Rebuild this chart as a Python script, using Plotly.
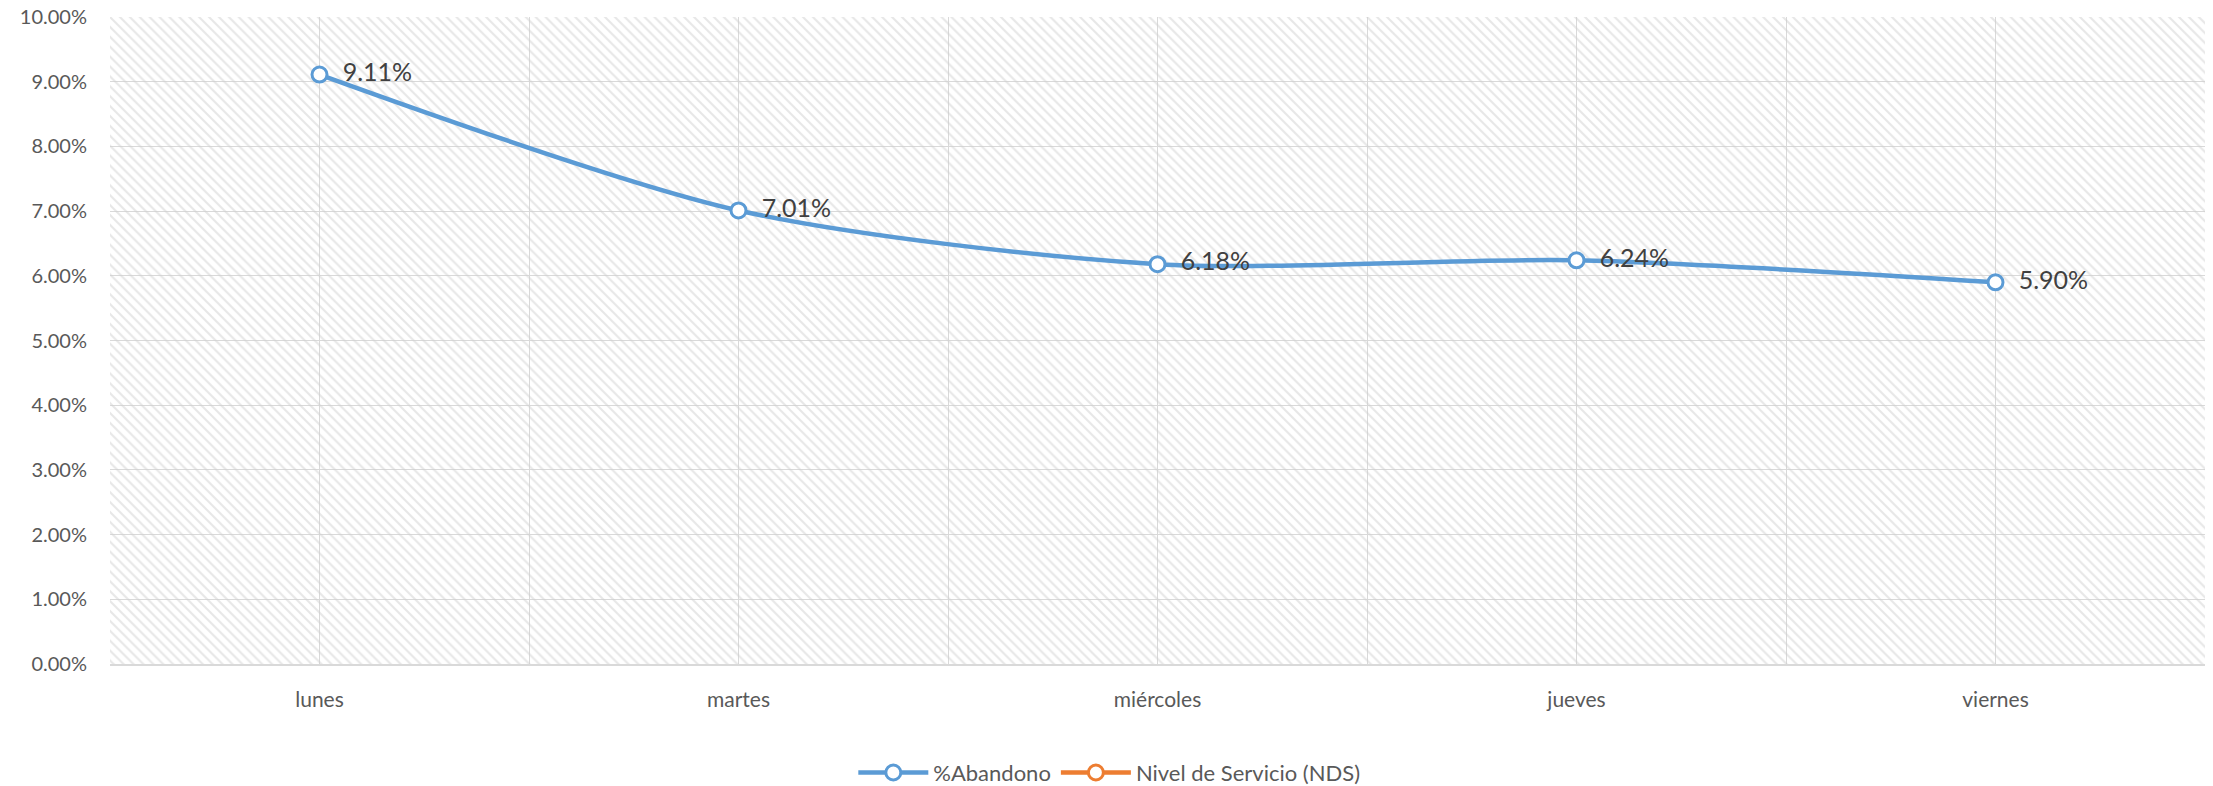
import plotly.graph_objects as go

categories = ["lunes", "martes", "miércoles", "jueves", "viernes"]
abandono = [0.0911, 0.0701, 0.0618, 0.0624, 0.0590]
abandono_labels = ["9.11%", "7.01%", "6.18%", "6.24%", "5.90%"]
nds = []  # Nivel de Servicio (NDS): no visible points in the chart
y_ticks = [i / 100 for i in range(0, 11)]
y_tick_labels = [f"{v*100:.2f}%" for v in y_ticks]

FONT = "Lato, Calibri, 'Open Sans', sans-serif"
n = len(categories)
x_pos = list(range(n))
x_lo, x_hi = -0.5, n - 0.5
y_lo, y_hi = 0, 0.10
boundaries = [i - 0.5 for i in range(n + 1)]

fig = go.Figure()

# hatched plot-area background (transparent so gridlines show through)
fig.add_trace(go.Scatter(
    x=[x_lo, x_hi, x_hi, x_lo, x_lo], y=[y_lo, y_lo, y_hi, y_hi, y_lo],
    mode="lines", line=dict(width=0), fill="toself", fillcolor="rgba(0,0,0,0)",
    fillpattern=dict(shape="\\", fgcolor="#cfcfcf", bgcolor="rgba(0,0,0,0)", size=7, solidity=0.3),
    hoverinfo="skip", showlegend=False,
))

fig.add_trace(go.Scatter(
    x=x_pos, y=abandono, name="%Abandono",
    mode="lines+markers+text",
    line=dict(color="#5B9BD5", width=4.5, shape="spline", smoothing=0.8),
    marker=dict(symbol="circle", size=15, color="white", line=dict(color="#5B9BD5", width=3)),
    text=["\u00a0\u00a0" + t for t in abandono_labels], textposition="middle right",
    textfont=dict(family=FONT, size=25, color="#404040"),
))

fig.add_trace(go.Scatter(
    x=[None], y=[None], name="Nivel de Servicio (NDS)",
    mode="lines+markers",
    line=dict(color="#ED7D31", width=4.5),
    marker=dict(symbol="circle", size=15, color="white", line=dict(color="#ED7D31", width=3)),
))

fig.update_layout(
    width=2213, height=786,
    margin=dict(l=110, r=8, t=17, b=122, autoexpand=False),
    paper_bgcolor="white", plot_bgcolor="white",
    font=dict(family=FONT, size=20, color="#595959"),
    showlegend=True,
    legend=dict(orientation="h", x=0.477, xanchor="center", y=-0.168, yanchor="middle",
                font=dict(family=FONT, size=22, color="#595959"), itemwidth=70),
    xaxis=dict(
        range=[x_lo, x_hi], tickvals=x_pos, ticktext=categories,
        showgrid=True, gridcolor="#d9d9d9", gridwidth=1,
        zeroline=False, showline=True, linecolor="#d9d9d9", linewidth=1.5,
        ticks="", ticklabelstandoff=16, automargin=False,
        tickfont=dict(family=FONT, size=21, color="#595959"),
    ),
    xaxis2=dict(
        range=[x_lo, x_hi], overlaying="x", side="bottom", matches="x",
        tickvals=boundaries, showticklabels=False, ticks="",
        showgrid=True, gridcolor="#d9d9d9", gridwidth=1, zeroline=False, automargin=False,
    ),
    yaxis=dict(
        range=[y_lo, y_hi], tickvals=y_ticks, ticktext=y_tick_labels,
        showgrid=True, gridcolor="#d9d9d9", gridwidth=1, zeroline=False,
        ticks="", ticklabelstandoff=22, automargin=False,
        tickfont=dict(family=FONT, size=20, color="#595959"),
    ),
)
# invisible carrier trace so xaxis2 (boundary gridlines) is drawn
fig.add_trace(go.Scatter(x=[x_lo], y=[y_lo], xaxis="x2", mode="markers",
                         marker=dict(opacity=0), hoverinfo="skip", showlegend=False))

fig.write_html("out.html", config={"displayModeBar": False},
               post_script="document.body.style.margin='0';document.body.style.overflow='hidden';")
